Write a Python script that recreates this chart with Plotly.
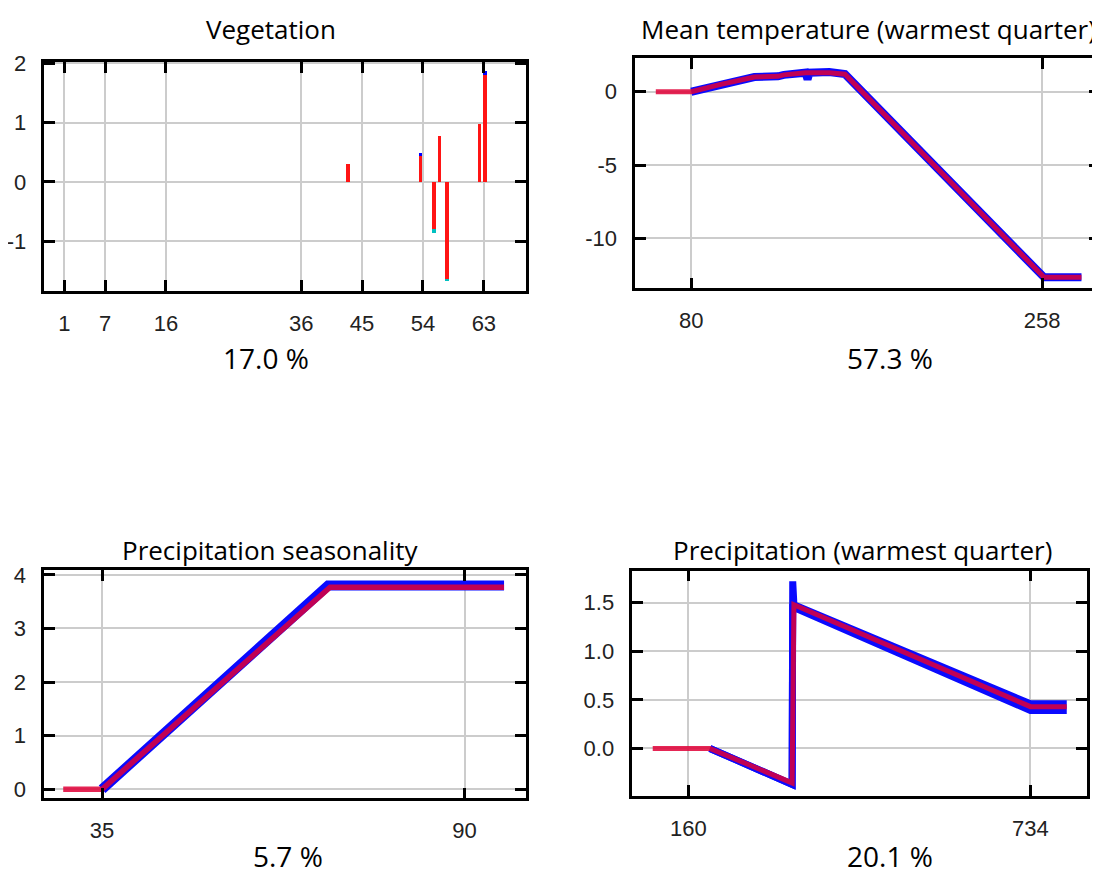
import plotly.graph_objects as go

# ---------------- data ----------------
# Panel 1: Vegetation (bars)
veg_x = [43, 53.7, 55.7, 56.5, 57.6, 62.4, 63.2]
veg_red = [0.30, 0.44, -0.80, 0.78, -1.63, 0.97, 1.80]
veg_tip = [0.30, 0.48, -0.86, 0.78, -1.67, 0.97, 1.87]
veg_tip_col = ["red", "blue", "#00c0c0", "red", "#00c0c0", "red", "blue"]
veg_xticks = [1, 7, 16, 36, 45, 54, 63]
veg_yticks = [-1, 0, 1, 2]

# Panel 2: Mean temperature (warmest quarter)
temp_x = [62, 80, 95, 108, 112, 124, 127, 138, 150, 158, 259, 278]
temp_red = [0, 0, 0.5, 0.9, 1.0, 1.05, 1.15, 1.3, 1.3, 1.2, -12.65, -12.65]
temp_bx = [80, 95, 108, 112, 124, 127, 138, 139, 140, 150, 158, 259, 278]
temp_blue = [0, 0.5, 0.9, 1.0, 1.05, 1.15, 1.3, 0.85, 1.3, 1.35, 1.2, -12.65, -12.65]
temp_xticks = [80, 258]
temp_yticks = [-10, -5, 0]

# Panel 3: Precipitation seasonality
seas_x = [29.1, 35, 69.6, 96.0]
seas_red = [0, 0, 3.77, 3.77]
seas_bx = [35, 66, 69.3, 96.0]
seas_blue = [0, 3.4, 3.8, 3.8]
seas_xticks = [35, 90]
seas_yticks = [0, 1, 2, 3, 4]

# Panel 4: Precipitation (warmest quarter)
prec_x = [100, 196, 334, 337, 734, 795]
prec_red = [0, 0, -0.355, 1.48, 0.43, 0.43]
prec_bx = [196, 334, 335, 337, 734, 795]
prec_blue_hi = [0, -0.37, 1.72, 1.48, 0.46, 0.46]
prec_blue_lo = [0, -0.37, 1.45, 1.45, 0.39, 0.39]
prec_xticks = [160, 734]
prec_yticks = [0, 0.5, 1.0, 1.5]
prec_yticktext = ["0.0", "0.5", "1.0", "1.5"]

titles = ["Vegetation", "Mean temperature (warmest quarter)",
          "Precipitation seasonality", "Precipitation (warmest quarter)"]
percents = ["17.0 %", "57.3 %", "5.7 %", "20.1 %"]

# ---------------- figure ----------------
# the page body has an 8px margin, so the figure is drawn 8px smaller and
# all layout positions (measured on the 1100x874 screen) are shifted by 8px
OFF = 8
W, H = 1100 - OFF, 874 - OFF
RED = "rgba(225,0,55,0.85)"
BLUE = "rgb(10,10,255)"

fig = go.Figure()

# Panel 1 bars
fig.add_trace(go.Bar(x=veg_x, y=veg_tip, width=0.55, marker=dict(color=veg_tip_col, line=dict(width=0)),
                     xaxis="x", yaxis="y", showlegend=False))
fig.add_trace(go.Bar(x=veg_x, y=veg_red, width=0.55, marker=dict(color="rgb(255,20,20)", line=dict(width=0)),
                     xaxis="x", yaxis="y", showlegend=False))

# Panel 2
fig.add_trace(go.Scatter(x=temp_bx, y=temp_blue, mode="lines", line=dict(color=BLUE, width=8),
                         xaxis="x2", yaxis="y2", showlegend=False))
fig.add_trace(go.Scatter(x=temp_x, y=temp_red, mode="lines", line=dict(color=RED, width=5),
                         xaxis="x2", yaxis="y2", showlegend=False))

# Panel 3
fig.add_trace(go.Scatter(x=seas_bx, y=seas_blue, mode="lines", line=dict(color=BLUE, width=10),
                         xaxis="x3", yaxis="y3", showlegend=False))
fig.add_trace(go.Scatter(x=seas_x, y=seas_red, mode="lines", line=dict(color=RED, width=5.5),
                         xaxis="x3", yaxis="y3", showlegend=False))

# Panel 4
fig.add_trace(go.Scatter(x=prec_bx, y=prec_blue_hi, mode="lines", line=dict(color=BLUE, width=7),
                         xaxis="x4", yaxis="y4", showlegend=False))
fig.add_trace(go.Scatter(x=prec_bx, y=prec_blue_lo, mode="lines", line=dict(color=BLUE, width=7),
                         xaxis="x4", yaxis="y4", showlegend=False))
fig.add_trace(go.Scatter(x=prec_x, y=prec_red, mode="lines", line=dict(color=RED, width=5),
                         xaxis="x4", yaxis="y4", showlegend=False))

TICKFONT = dict(family="Liberation Sans, Arial, sans-serif", size=22, color="#222222")


def xax(domain, rng, tickvals, anchor):
    return dict(domain=domain, range=rng, tickvals=tickvals, ticktext=[str(v) for v in tickvals],
                ticks="inside", ticklen=11, tickwidth=2.5, tickcolor="black",
                showline=True, linecolor="black", linewidth=2.5, mirror="ticks",
                showgrid=True, gridcolor="#cccccc", gridwidth=2, zeroline=False,
                tickfont=TICKFONT, ticklabelstandoff=11, anchor=anchor, fixedrange=True,
                automargin=False)


def yax(domain, rng, tickvals, anchor, ticktext=None):
    return dict(domain=domain, range=rng, tickvals=tickvals,
                ticktext=ticktext if ticktext else [str(v) for v in tickvals],
                ticks="inside", ticklen=11, tickwidth=2.5, tickcolor="black",
                showline=True, linecolor="black", linewidth=2.5, mirror="ticks",
                showgrid=True, gridcolor="#cccccc", gridwidth=2, zeroline=False,
                tickfont=TICKFONT, ticklabelstandoff=11, anchor=anchor, fixedrange=True,
                automargin=False)


def px(v):
    return min(1.0, max(0.0, (v - OFF) / W))


def py(v):
    return min(1.0, max(0.0, 1 - (v - OFF) / H))


fig.update_layout(
    width=W, height=H,
    margin=dict(l=0, r=0, t=0, b=0, pad=0),
    paper_bgcolor="white", plot_bgcolor="white",
    barmode="overlay", bargap=0,
    xaxis=xax([px(44.4), px(525.8)], [-1.96, 69.2], veg_xticks, "y"),
    yaxis=yax([py(291), py(62)], [-1.84, 2.02], veg_yticks, "x"),
    xaxis2=xax([px(635.1), 1.0], [51.5, 287.4], temp_xticks, "y2"),
    yaxis2=yax([py(288.3), py(58.3)], [-13.4, 2.28], temp_yticks, "x2"),
    xaxis3=xax([px(44.1), px(525.8)], [26.2, 99.3], seas_xticks, "y3"),
    yaxis3=yax([py(798.3), py(570)], [-0.17, 4.09], seas_yticks, "x3"),
    xaxis4=xax([px(632.3), px(1087)], [65.7, 829], prec_xticks, "y4"),
    yaxis4=yax([py(796), py(570.7)], [-0.49, 1.83], prec_yticks, "x4", prec_yticktext),
)

TITLEFONT = dict(family="Open Sans, Lato, sans-serif", size=26, color="black")
PCTFONT = dict(family="Open Sans, Lato, sans-serif", size=28, color="black")
title_pos = [(271, 29), (868, 29), (270, 550), (862, 550)]
pct_pos = [(266, 358), (890, 358), (288, 856), (890, 856)]
for txt, (x, y) in zip(titles, title_pos):
    fig.add_annotation(text=txt, x=px(x), y=py(y), xref="paper", yref="paper",
                       showarrow=False, xanchor="center", yanchor="middle", font=TITLEFONT)
for txt, (x, y) in zip(percents, pct_pos):
    fig.add_annotation(text=txt, x=px(x), y=py(y), xref="paper", yref="paper",
                       showarrow=False, xanchor="center", yanchor="middle", font=PCTFONT)

fig.write_html("out.html")
